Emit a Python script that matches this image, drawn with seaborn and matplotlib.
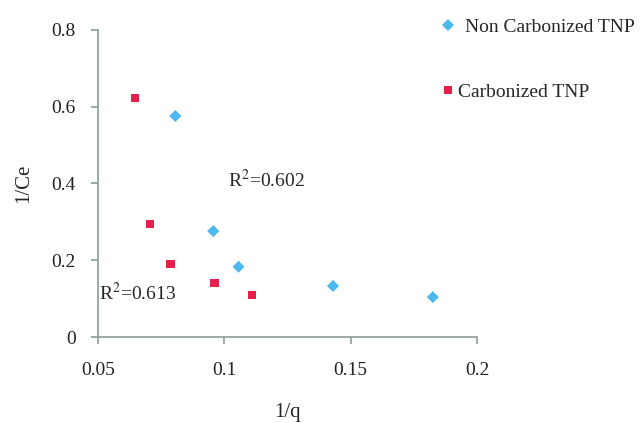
import matplotlib
matplotlib.use("Agg")
import matplotlib.pyplot as plt
import seaborn as sns
import pandas as pd

# Langmuir-type plot data: 1/q vs 1/Ce
non_carb_x = [0.0806, 0.0956, 0.1056, 0.143, 0.1825]
non_carb_y = [0.576, 0.276, 0.183, 0.133, 0.104]
carb_x = [0.0647, 0.0706, 0.0786, 0.096, 0.111]
carb_y = [0.623, 0.295, 0.190, 0.141, 0.110]
series_names = ["Non Carbonized TNP", "Carbonized TNP"]
r2_labels = ["R$^2$=0.602", "R$^2$=0.613"]
x_ticks = [0.05, 0.1, 0.15, 0.2]
x_tick_labels = ["0.05", "0.1", "0.15", "0.2"]
y_ticks = [0, 0.2, 0.4, 0.6, 0.8]
y_tick_labels = ["0", "0.2", "0.4", "0.6", "0.8"]

df = pd.DataFrame({
    "1/q": non_carb_x + carb_x,
    "1/Ce": non_carb_y + carb_y,
    "sample": [series_names[0]] * len(non_carb_x) + [series_names[1]] * len(carb_x),
})

sns.set_style("white")
plt.rcParams["font.family"] = ["Liberation Serif", "DejaVu Serif"]
plt.rcParams["mathtext.fontset"] = "stix"

fig = plt.figure(figsize=(6.42, 4.23), dpi=100)
ax = fig.add_axes([0.1527, 0.2033, 0.5903, 0.7258])

palette = {series_names[0]: "#4DB8EE", series_names[1]: "#E5204A"}
markers = {series_names[0]: "D", series_names[1]: "s"}
sns.scatterplot(data=df, x="1/q", y="1/Ce", hue="sample", style="sample",
                palette=palette, markers=markers, s=38, linewidth=0, ax=ax,
                legend=True)

ax.set_xlim(0.05, 0.2)
ax.set_ylim(0, 0.8)
ax.set_xticks(x_ticks)
ax.set_xticklabels(x_tick_labels)
ax.set_yticks(y_ticks)
ax.set_yticklabels(y_tick_labels)

spine_color = "#8C9C9C"
for side in ["top", "right"]:
    ax.spines[side].set_visible(False)
for side in ["left", "bottom"]:
    ax.spines[side].set_color(spine_color)
    ax.spines[side].set_linewidth(1.2)
ax.tick_params(axis="both", which="major", direction="out", length=5,
               width=1.2, color=spine_color, labelsize=14, labelcolor="#222222",
               bottom=True, left=True)
ax.tick_params(axis="x", pad=13)
ax.tick_params(axis="y", pad=11)

ax.set_xlabel("1/q", fontsize=15, labelpad=17)
ax.set_ylabel("1/Ce", fontsize=15, labelpad=13)

ax.text(0.1016, 0.41, r2_labels[0], fontsize=14, ha="left", va="center")
ax.text(0.0504, 0.115, r2_labels[1], fontsize=14, ha="left", va="center")

# Two separate legend entries, stacked at the upper right outside the axes
handles, labels = ax.get_legend_handles_labels()
ax.get_legend().remove()
leg_specs = [(0.935, 0.39), (0.783, 0.03)]
legends = []
for h, lab, (yfrac, tpad) in zip(handles, labels, leg_specs):
    leg = ax.legend([h], [lab], loc="center left",
                    bbox_to_anchor=(438 / 642, yfrac),
                    bbox_transform=fig.transFigure, frameon=False,
                    fontsize=14, handlelength=1.0, handletextpad=tpad,
                    borderaxespad=0, borderpad=0)
    legends.append(leg)
for leg in legends[:-1]:
    ax.add_artist(leg)

fig.savefig("out.png", dpi=100)
